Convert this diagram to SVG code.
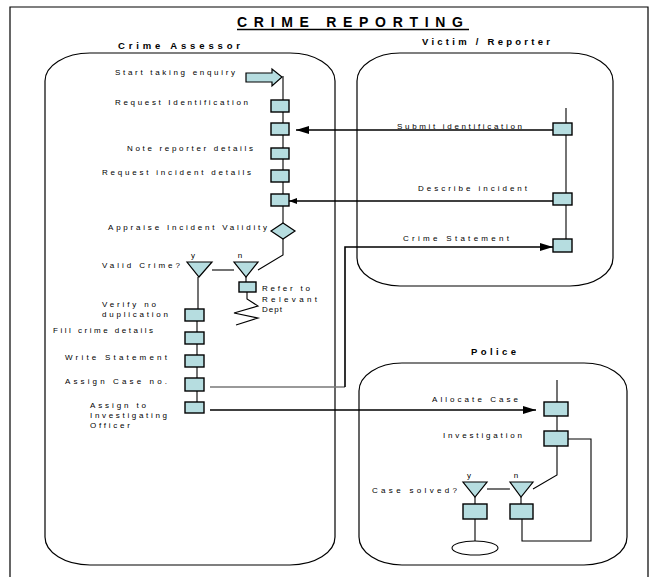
<svg xmlns="http://www.w3.org/2000/svg" width="652" height="577" viewBox="0 0 652 577">
<style>
.t{font-family:"Liberation Sans",Arial,sans-serif;font-size:8px;fill:#000}
.h{font-family:"Liberation Sans",Arial,sans-serif;font-size:9.5px;font-weight:bold;fill:#000}
.lane{fill:none;stroke:#000;stroke-width:1.2}
.box{fill:#b6dde0;stroke:#000;stroke-width:1.4}
.tri{fill:#b6dde0;stroke:#000;stroke-width:1.2}
.ln{fill:none;stroke:#000;stroke-width:1.1}
.ar{fill:none;stroke:#000;stroke-width:1.6}
.gr{fill:none;stroke:#777;stroke-width:1.6}
</style>
<defs>
<marker id="ah" viewBox="0 0 10 10" refX="10" refY="5" markerWidth="8" markerHeight="6" markerUnits="userSpaceOnUse" orient="auto" preserveAspectRatio="none">
<path d="M0,0 L10,5 L0,10 Z" fill="#000"/>
</marker>
<marker id="ahb" viewBox="0 0 10 10" refX="10" refY="5" markerWidth="13" markerHeight="8" markerUnits="userSpaceOnUse" orient="auto" preserveAspectRatio="none">
<path d="M0,0 L10,5 L0,10 Z" fill="#000"/>
</marker>
</defs>
<rect width="652" height="577" fill="#fff"/>
<path d="M10,577 V7 H648 V577" class="lane"/>

<g id="title">
<text x="237" y="26.5" font-family="Liberation Sans, Arial, sans-serif" font-size="14" font-weight="bold" textLength="226" lengthAdjust="spacing">CRIME REPORTING</text>
<line x1="237" y1="29.5" x2="469" y2="29.5" stroke="#000" stroke-width="1.6"/>
</g>

<g id="lane-crime-assessor">
<rect x="45" y="53" width="290" height="512" rx="45" ry="28" class="lane"/>
<text class="h" x="118" y="49" textLength="122" lengthAdjust="spacing">Crime Assessor</text>
</g>
<g id="lane-victim">
<rect x="357" y="53" width="256" height="233" rx="43" ry="28" class="lane"/>
<text class="h" x="422" y="45" textLength="128" lengthAdjust="spacing">Victim / Reporter</text>
</g>
<g id="lane-police">
<rect x="359" y="363" width="268" height="202" rx="43" ry="28" class="lane"/>
<text class="h" x="471" y="355" textLength="45" lengthAdjust="spacing">Police</text>
</g>

<g id="connectors">
<path class="ln" d="M283,76 V100 M283,112 V123 M283,135 V148 M283,159 V170 M283,182 V194 M283,206 V223 M283,239 V255 L258,270"/>
<path class="ln" d="M212,270 H234" stroke="#444"/>
<path class="ln" d="M246,277 V282 M247,292 V299 L258,306 L234,313 L258,318 L236,325"/>
<path class="ln" d="M198,277 V309 M197,321 V332 M197,344 V355 M197,367 V378 M197,391 V402"/>
<path class="ln" d="M566,108 V239"/>
<path class="ar" d="M553,130 H296" marker-end="url(#ahb)"/>
<path class="ar" d="M553,201 H289" marker-end="url(#ah)"/>
<path class="gr" d="M210,387 H345"/>
<path class="ar" d="M345,387 V247 H553" marker-end="url(#ahb)"/>
<path class="ar" d="M210,410 H536" marker-end="url(#ahb)"/>
<path class="ln" d="M557,380 V402 M557,416 V431 M557,446 V475 L533,489"/>
<path class="ln" d="M568,439 H591 V541 H522 V519"/>
<path class="ln" d="M487,489 H510" stroke="#444"/>
<path class="ln" d="M475,497 V504 M521,497 V504 M475,519 V541"/>
</g>

<g id="start">
<path d="M246,73 H272 V69 L282,77 L272,86 V82 H246 Z" class="tri"/>
<text class="t" x="115" y="75" textLength="120" lengthAdjust="spacing">Start taking enquiry</text>
</g>
<g id="request-identification">
<rect x="271" y="100" width="18" height="12" class="box"/>
<text class="t" x="115" y="105" textLength="133" lengthAdjust="spacing">Request Identification</text>
</g>
<g id="receive-identification">
<rect x="271" y="123" width="18" height="12" class="box"/>
</g>
<g id="note-reporter-details">
<rect x="271" y="148" width="18" height="11" class="box"/>
<text class="t" x="127" y="151" textLength="126" lengthAdjust="spacing">Note reporter details</text>
</g>
<g id="request-incident-details">
<rect x="271" y="170" width="18" height="12" class="box"/>
<text class="t" x="102" y="175" textLength="149" lengthAdjust="spacing">Request incident details</text>
</g>
<g id="receive-incident">
<rect x="271" y="194" width="18" height="12" class="box"/>
</g>
<g id="appraise">
<path d="M271,231 L283,223 L295,231 L283,239 Z" class="tri"/>
<text class="t" x="108" y="230" textLength="159" lengthAdjust="spacing">Appraise Incident Validity</text>
</g>
<g id="valid-crime-y">
<path d="M187,262 H212 L199,277 Z" class="tri"/>
<text class="t" x="193" y="258" text-anchor="middle">y</text>
<text class="t" x="102" y="268" textLength="78" lengthAdjust="spacing">Valid Crime?</text>
</g>
<g id="valid-crime-n">
<path d="M234,262 H258 L246,277 Z" class="tri"/>
<text class="t" x="240" y="258" text-anchor="middle">n</text>
</g>
<g id="refer">
<rect x="239" y="282" width="17" height="10" class="box"/>
<text class="t" x="262" y="291" textLength="48" lengthAdjust="spacing">Refer to</text>
<text class="t" x="262" y="302" textLength="55" lengthAdjust="spacing">Relevant</text>
<text class="t" x="262" y="312" textLength="20" lengthAdjust="spacing">Dept</text>
</g>
<g id="verify">
<rect x="185" y="309" width="19" height="12" class="box"/>
<text class="t" x="102" y="307" textLength="54" lengthAdjust="spacing">Verify no</text>
<text class="t" x="102" y="317" textLength="66" lengthAdjust="spacing">duplication</text>
</g>
<g id="fill">
<rect x="185" y="332" width="19" height="12" class="box"/>
<text class="t" x="53" y="333" textLength="100" lengthAdjust="spacing">Fill crime details</text>
</g>
<g id="write">
<rect x="185" y="355" width="19" height="12" class="box"/>
<text class="t" x="65" y="360" textLength="102" lengthAdjust="spacing">Write Statement</text>
</g>
<g id="assign-case">
<rect x="185" y="378" width="19" height="13" class="box"/>
<text class="t" x="65" y="384" textLength="102" lengthAdjust="spacing">Assign Case no.</text>
</g>
<g id="assign-officer">
<rect x="185" y="402" width="19" height="11" class="box"/>
<text class="t" x="90" y="408" textLength="56" lengthAdjust="spacing">Assign to</text>
<text class="t" x="90" y="418" textLength="77" lengthAdjust="spacing">Investigating</text>
<text class="t" x="90" y="428" textLength="40" lengthAdjust="spacing">Officer</text>
</g>

<g id="submit-identification">
<rect x="553" y="123" width="19" height="12" class="box"/>
<text class="t" x="397" y="129" textLength="125" lengthAdjust="spacing">Submit identification</text>
</g>
<g id="describe-incident">
<rect x="553" y="193" width="19" height="12" class="box"/>
<text class="t" x="418" y="191" textLength="109" lengthAdjust="spacing">Describe incident</text>
</g>
<g id="crime-statement">
<rect x="553" y="239" width="19" height="13" class="box"/>
<text class="t" x="403" y="241" textLength="106" lengthAdjust="spacing">Crime Statement</text>
</g>

<g id="allocate-case">
<rect x="544" y="402" width="24" height="14" class="box"/>
<text class="t" x="432" y="402" textLength="86" lengthAdjust="spacing">Allocate Case</text>
</g>
<g id="investigation">
<rect x="544" y="431" width="24" height="15" class="box"/>
<text class="t" x="443" y="438" textLength="79" lengthAdjust="spacing">Investigation</text>
</g>
<g id="case-solved-y">
<path d="M463,482 H487 L475,497 Z" class="tri"/>
<text class="t" x="469" y="478" text-anchor="middle">y</text>
<text class="t" x="372" y="493" textLength="85" lengthAdjust="spacing">Case solved?</text>
</g>
<g id="case-solved-n">
<path d="M510,482 H533 L521,497 Z" class="tri"/>
<text class="t" x="516" y="478" text-anchor="middle">n</text>
</g>
<g id="close-case">
<rect x="463" y="504" width="24" height="15" class="box"/>
</g>
<g id="reinvestigate">
<rect x="510" y="504" width="23" height="15" class="box"/>
</g>
<g id="end">
<ellipse cx="475" cy="548" rx="23" ry="7" fill="#fff" stroke="#000" stroke-width="1.1"/>
</g>
</svg>
